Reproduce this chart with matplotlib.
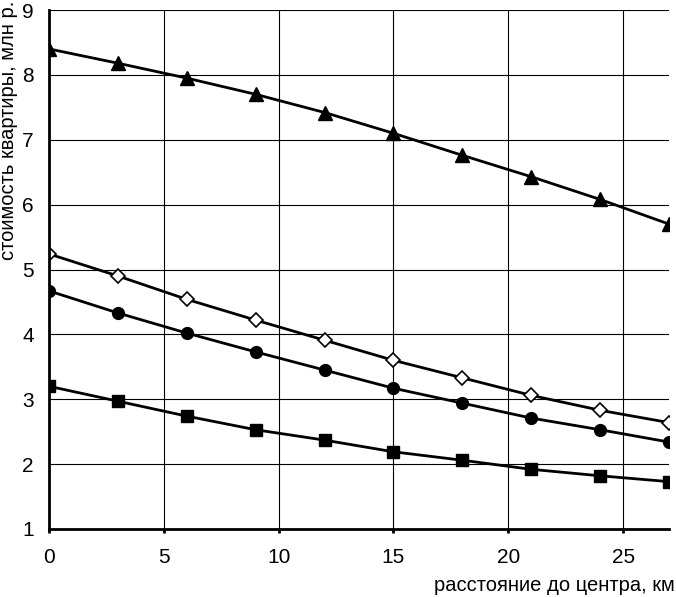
import matplotlib.pyplot as plt

plt.rcParams['font.family'] = ['Liberation Sans', 'DejaVu Sans']

# distance from centre, km
distance = [0, 3, 6, 9, 12, 15, 18, 21, 24, 27]

# flat price, mln rub
price_triangle = [8.40, 8.18, 7.95, 7.70, 7.42, 7.10, 6.76, 6.43, 6.08, 5.70]
price_diamond = [5.24, 4.90, 4.54, 4.22, 3.91, 3.60, 3.33, 3.06, 2.83, 2.64]
price_circle = [4.67, 4.33, 4.02, 3.73, 3.45, 3.17, 2.94, 2.71, 2.53, 2.34]
price_square = [3.20, 2.97, 2.74, 2.53, 2.37, 2.19, 2.06, 1.92, 1.82, 1.73]

fig = plt.figure(figsize=(6.76, 5.97), dpi=100)
ax = fig.add_axes([49 / 676, 1 - 529 / 597, 620 / 676, 519 / 597])

ax.plot(distance, price_triangle, color='black', lw=2, marker='^', ms=9.5, mfc='black', mec='black')
ax.plot(distance, price_diamond, color='black', lw=2, marker='D', ms=7.5, mfc='white', mec='black', mew=1.2)
ax.plot(distance, price_circle, color='black', lw=2, marker='o', ms=8.5, mfc='black', mec='black')
ax.plot(distance, price_square, color='black', lw=2, marker='s', ms=8.5, mfc='black', mec='black')

ax.set_xlim(0, 27)
ax.set_ylim(1, 9)
ax.set_xticks([0, 5, 10, 15, 20, 25])
ax.set_yticks(range(1, 10))
ax.grid(True, color='black', lw=0.8)
ax.set_axisbelow(True)

for side in ['top', 'right']:
    ax.spines[side].set_visible(False)
for side in ['left', 'bottom']:
    ax.spines[side].set_linewidth(2)

ax.tick_params(axis='x', direction='out', length=3, width=2, labelsize=15, pad=11)
ax.tick_params(axis='y', length=0, labelsize=15, pad=11)

ax.set_xlabel('расстояние до центра, км', fontsize=14.5, loc='right')
ax.xaxis.label.set_va('baseline')
ax.xaxis.set_label_coords((675 - 49) / 620, -(591 - 529) / 519)

ax.set_ylabel('стоимость квартиры, млн р.', fontsize=14.5, loc='top')
ax.yaxis.label.set_va('center')
ax.yaxis.set_label_coords((8.5 - 49) / 620, (529 - 1) / 519)

fig.savefig('out.png', dpi=100)
